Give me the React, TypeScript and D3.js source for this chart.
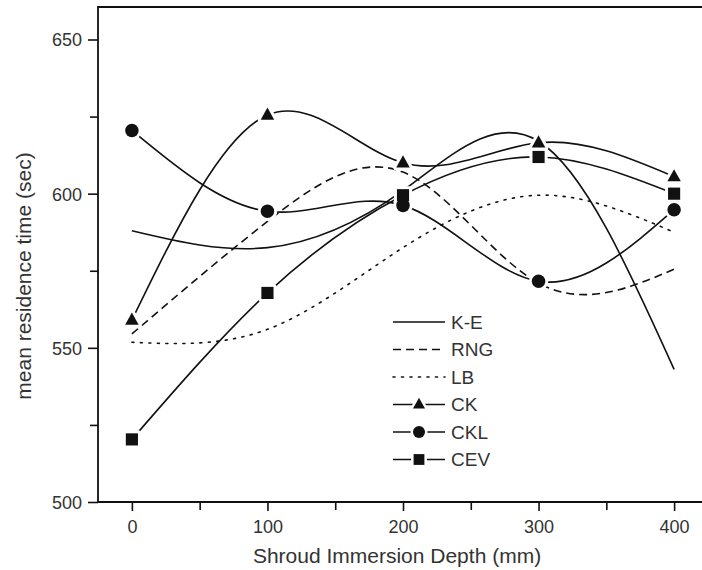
import { useEffect, useRef } from "react";
import * as d3 from "d3";

const depths = [0, 100, 200, 300, 400];
const keValues = [588, 582.5, 601, 617, 543];
const rngValues = [554.5, 591, 607, 571, 575.5];
const lbValues = [551.8, 556, 582.5, 599.5, 587.5];
const ckValues = [559, 625.5, 610, 616.5, 605.5];
const cklValues = [620.5, 594.3, 596.2, 571.6, 594.8];
const cevValues = [520.3, 567.8, 599.5, 611.9, 600];

const seriesNames = ["K-E", "RNG", "LB", "CK", "CKL", "CEV"];
const xTicks = [0, 100, 200, 300, 400];
const xMinorTicks = [50, 150, 250, 350];
const yTicks = [500, 550, 600, 650];
const yMinorTicks = [525, 575, 625];

const width = 702;
const height = 570;
const font = "Arial, 'Liberation Sans', sans-serif";
const ink = "#111";
const textInk = "#333";

type Series = {
  name: string;
  values: number[];
  dash: string | null;
  marker: "triangle" | "circle" | "square" | null;
};

const series: Series[] = [
  { name: seriesNames[0], values: keValues, dash: null, marker: null },
  { name: seriesNames[1], values: rngValues, dash: "8,5", marker: null },
  { name: seriesNames[2], values: lbValues, dash: "2,6.5", marker: null },
  { name: seriesNames[3], values: ckValues, dash: null, marker: "triangle" },
  { name: seriesNames[4], values: cklValues, dash: null, marker: "circle" },
  { name: seriesNames[5], values: cevValues, dash: null, marker: "square" },
];

function markerPath(kind: string, size: number) {
  if (kind === "triangle") {
    const h = size * 0.9;
    return `M0,${-h * 0.62}L${size / 2},${h * 0.38}L${-size / 2},${h * 0.38}Z`;
  }
  if (kind === "square") {
    const s = size * 0.9;
    return `M${-s / 2},${-s / 2}h${s}v${s}h${-s}Z`;
  }
  const r = size / 2;
  return `M${r},0A${r},${r},0,1,1,${-r},0A${r},${r},0,1,1,${r},0Z`;
}

function App() {
  const svgRef = useRef<SVGSVGElement>(null);

  useEffect(() => {
    const svg = d3.select(svgRef.current);
    svg.selectAll("*").remove();

    const frameLeft = 98;
    const frameTop = 7;
    const frameBottom = 502;

    // scales
    const xScale = d3.scaleLinear().domain([-25, 425]).range([frameLeft, 708]);
    const yScale = d3.scaleLinear().domain([500, 650]).range([frameBottom, 39.5]);

    // frame (right side is cut off in the original)
    svg
      .append("path")
      .attr("d", `M${width},${frameTop}H${frameLeft}V${frameBottom}H${width}`)
      .attr("fill", "none")
      .attr("stroke", ink)
      .attr("stroke-width", 1.8);

    // axes
    const xAxis = svg
      .append("g")
      .attr("transform", `translate(0,${frameBottom})`)
      .call(
        d3.axisBottom(xScale).tickValues(xTicks).tickSize(9).tickPadding(9).tickFormat(d3.format("d"))
      );
    svg
      .append("g")
      .attr("transform", `translate(0,${frameBottom})`)
      .call(d3.axisBottom(xScale).tickValues(xMinorTicks).tickSize(8).tickFormat(() => ""));

    const yAxis = svg
      .append("g")
      .attr("transform", `translate(${frameLeft},0)`)
      .call(
        d3.axisLeft(yScale).tickValues(yTicks).tickSize(10).tickPadding(6).tickFormat(d3.format("d"))
      );
    svg
      .append("g")
      .attr("transform", `translate(${frameLeft},0)`)
      .call(d3.axisLeft(yScale).tickValues(yMinorTicks).tickSize(8).tickFormat(() => ""));

    svg.selectAll(".domain").remove();
    svg.selectAll(".tick line").attr("stroke", ink).attr("stroke-width", 1.6);
    svg
      .selectAll(".tick text")
      .attr("fill", textInk)
      .attr("font-size", 18)
      .attr("font-family", font);
    yAxis.selectAll(".tick text").attr("dy", "0.36em");
    xAxis.selectAll(".tick text").attr("dy", "0.7em");

    // axis titles
    svg
      .append("text")
      .attr("x", 397)
      .attr("y", 563)
      .attr("text-anchor", "middle")
      .attr("fill", textInk)
      .attr("font-size", 21)
      .attr("font-family", font)
      .text("Shroud Immersion Depth (mm)");

    svg
      .append("text")
      .attr("transform", "translate(31,276) rotate(-90)")
      .attr("text-anchor", "middle")
      .attr("fill", textInk)
      .attr("font-size", 21)
      .attr("font-family", font)
      .text("mean residence time (sec)");

    // lines
    const line = d3
      .line<number>()
      .x((d, i) => xScale(depths[i]))
      .y((d) => yScale(d))
      .curve(d3.curveNatural);

    series.forEach((s) => {
      svg
        .append("path")
        .attr("d", line(s.values))
        .attr("fill", "none")
        .attr("stroke", ink)
        .attr("stroke-width", 1.6)
        .attr("stroke-dasharray", s.dash)
        .attr("stroke-linecap", s.dash === "2,6.5" ? "round" : "butt");
    });

    // white halos first so lines stop short of the markers, then markers
    const markerSeries = series.filter((s) => s.marker);
    markerSeries.forEach((s) => {
      svg
        .append("g")
        .selectAll("path")
        .data(s.values)
        .join("path")
        .attr("transform", (d, i) => `translate(${xScale(depths[i])},${yScale(d)})`)
        .attr("d", markerPath(s.marker!, 13.5))
        .attr("fill", "white")
        .attr("stroke", "white")
        .attr("stroke-width", 6)
        .attr("stroke-linejoin", "round");
    });
    markerSeries.forEach((s) => {
      svg
        .append("g")
        .selectAll("path")
        .data(s.values)
        .join("path")
        .attr("transform", (d, i) => `translate(${xScale(depths[i])},${yScale(d)})`)
        .attr("d", markerPath(s.marker!, 13.5))
        .attr("fill", ink);
    });

    // legend
    const legend = svg.append("g").attr("transform", "translate(393,322)");
    series.forEach((s, i) => {
      const row = legend.append("g").attr("transform", `translate(0,${i * 27.5})`);
      row
        .append("line")
        .attr("x1", 0)
        .attr("x2", 52)
        .attr("stroke", ink)
        .attr("stroke-width", 1.6)
        .attr("stroke-dasharray", s.dash)
        .attr("stroke-linecap", s.dash === "2,6.5" ? "round" : "butt");
      if (s.marker) {
        row
          .append("path")
          .attr("transform", "translate(26,0)")
          .attr("d", markerPath(s.marker, 12))
          .attr("fill", "white")
          .attr("stroke", "white")
          .attr("stroke-width", 5);
        row
          .append("path")
          .attr("transform", "translate(26,0)")
          .attr("d", markerPath(s.marker, 12))
          .attr("fill", ink);
      }
      row
        .append("text")
        .attr("x", 58)
        .attr("y", 0)
        .attr("dy", "0.36em")
        .attr("fill", textInk)
        .attr("font-size", 19)
        .attr("font-family", font)
        .text(s.name);
    });
  }, []);

  return (
    <svg
      ref={svgRef}
      width={width}
      height={height}
      viewBox={`0 0 ${width} ${height}`}
      style={{ position: "absolute", left: 0, top: 0, background: "white" }}
    />
  );
}

export default App;
